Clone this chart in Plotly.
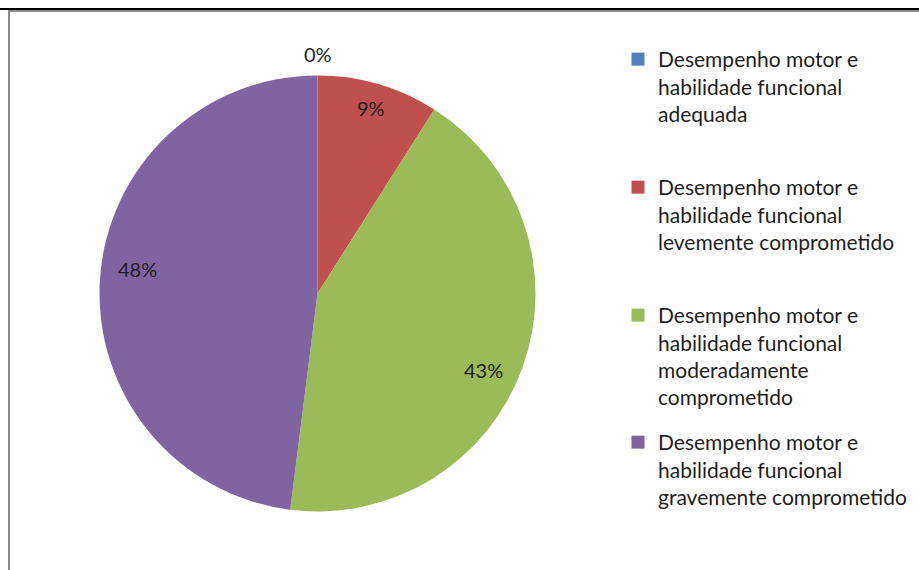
import math
import plotly.graph_objects as go

categories = [
    "Desempenho motor e<br>habilidade funcional<br>adequada",
    "Desempenho motor e<br>habilidade funcional<br>levemente comprometido",
    "Desempenho motor e<br>habilidade funcional<br>moderadamente<br>comprometido",
    "Desempenho motor e<br>habilidade funcional<br>gravemente comprometido",
]
values = [0, 9, 43, 48]
colors = ["#4F81BD", "#C0504D", "#9BBB59", "#8064A2"]
text_labels = [f"{v}%" for v in values]

W, H = 919, 570
FONT = "Lato"
TXT = "#1e1e1e"

# pie geometry (pixels)
CX, CY, R = 317.5, 293.5, 218.0
# label placement style: radial fraction and angular nudge (deg)
label_frac = [1.10, 0.885, 0.84, 0.835]
label_nudge = [0.0, 0.0, 4.8, 4.0]
# legend entry tops (pixels from top)
legend_tops = [39, 167, 295, 422]

fig = go.Figure()
fig.add_trace(go.Pie(
    labels=categories,
    values=values,
    textinfo="none",
    marker=dict(colors=colors, line=dict(width=0)),
    sort=False,
    direction="clockwise",
    rotation=0,
    showlegend=False,
    domain=dict(x=[(CX - R) / W, (CX + R) / W],
                y=[1 - (CY + R) / H, 1 - (CY - R) / H]),
    hoverinfo="label+percent",
))

# data labels placed along each slice from its value share
total = sum(values)
annotations = []
cum = 0.0
for i, v in enumerate(values):
    mid = (cum + v / 2) / total * 360 + label_nudge[i]
    cum += v
    a = math.radians(mid)
    px = CX + label_frac[i] * R * math.sin(a)
    py = CY - label_frac[i] * R * math.cos(a)
    annotations.append(dict(
        x=px / W, y=1 - py / H, xref="paper", yref="paper",
        text=text_labels[i], showarrow=False,
        xanchor="center", yanchor="middle",
        font=dict(family=FONT, size=20, color=TXT),
    ))

# legend entries, one legend per category so spacing follows the reference
for i, name in enumerate(categories):
    lg = "legend" if i == 0 else f"legend{i + 1}"
    fig.add_trace(go.Scatter(
        x=[None], y=[None], mode="markers", name=name,
        marker=dict(symbol="square", size=13, color=colors[i]),
        legend=lg, showlegend=True, hoverinfo="skip",
    ))

shapes = [
    dict(type="line", xref="paper", yref="paper", x0=0, x1=1, y0=1 - 9 / H, y1=1 - 9 / H,
         line=dict(color="#000000", width=2)),
    dict(type="line", xref="paper", yref="paper", x0=8.5 / W, x1=1, y0=1 - 11 / H, y1=1 - 11 / H,
         line=dict(color="#8c8c8c", width=2)),
    dict(type="line", xref="paper", yref="paper", x0=9 / W, x1=9 / W, y0=0, y1=1 - 10 / H,
         line=dict(color="#8c8c8c", width=2)),
]

layout_kw = dict(
    width=W, height=H,
    margin=dict(l=0, r=0, t=0, b=0),
    paper_bgcolor="white",
    plot_bgcolor="white",
    shapes=shapes,
    annotations=annotations,
    xaxis=dict(visible=False),
    yaxis=dict(visible=False),
    showlegend=True,
)
for i, top in enumerate(legend_tops):
    key = "legend" if i == 0 else f"legend{i + 1}"
    layout_kw[key] = dict(
        x=618 / W, y=1 - top / H, xanchor="left", yanchor="top",
        font=dict(family=FONT, size=21, color=TXT),
        bgcolor="rgba(0,0,0,0)",
        valign="top",
    )
fig.update_layout(**layout_kw)

fig.write_html("out.html")
